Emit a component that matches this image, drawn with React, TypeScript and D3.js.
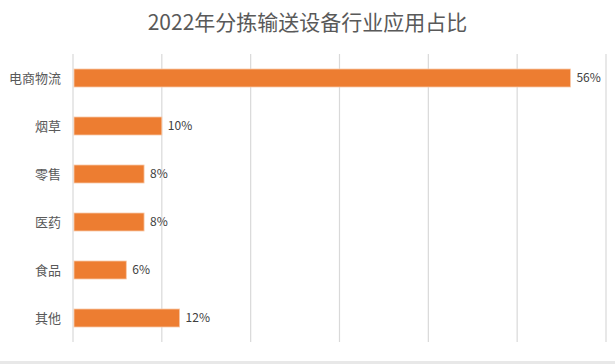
import React, { useRef, useEffect } from "react";
import * as d3 from "d3";

const categories = ["电商物流", "烟草", "零售", "医药", "食品", "其他"];
const shares = [56, 10, 8, 8, 6, 12];
const xTicks = [0, 10, 20, 30, 40, 50, 60];
const title = "2022年分拣输送设备行业应用占比";

const width = 615;
const height = 364;
const margin = { top: 54, right: 9, bottom: 22, left: 73 };
const font = "'Noto Sans CJK SC', 'Noto Sans', sans-serif";

const App: React.FC = () => {
  const svgRef = useRef<SVGSVGElement | null>(null);

  useEffect(() => {
    if (!svgRef.current) return;
    const svg = d3.select(svgRef.current);
    svg.selectAll("*").remove();

    const x = d3
      .scaleLinear()
      .domain([0, 60])
      .range([margin.left, width - margin.right]);
    const y = d3
      .scaleBand<string>()
      .domain(categories)
      .range([margin.top, height - margin.bottom])
      .paddingInner(0.625)
      .paddingOuter(0.3125);

    svg
      .append("rect")
      .attr("width", width)
      .attr("height", height)
      .attr("fill", "#fff");

    // bottom gray strip
    svg
      .append("rect")
      .attr("x", 0)
      .attr("y", height - 3)
      .attr("width", width)
      .attr("height", 3)
      .attr("fill", "#e8e8e8");

    svg
      .append("text")
      .attr("x", width / 2)
      .attr("y", 30)
      .attr("text-anchor", "middle")
      .attr("font-family", font)
      .attr("font-size", 21)
      .attr("fill", "#595959")
      .text(title);

    svg
      .append("g")
      .selectAll("line")
      .data(xTicks)
      .enter()
      .append("line")
      .attr("x1", (d) => x(d))
      .attr("x2", (d) => x(d))
      .attr("y1", margin.top)
      .attr("y2", height - margin.bottom)
      .attr("stroke", "#d9d9d9")
      .attr("stroke-width", 1.2);

    const rows = categories.map((c, i) => ({ label: c, value: shares[i] }));

    svg
      .append("g")
      .selectAll("rect")
      .data(rows)
      .enter()
      .append("rect")
      .attr("x", x(0) + 1)
      .attr("y", (d) => y(d.label)!)
      .attr("width", (d) => x(d.value) - x(0) - 1)
      .attr("height", y.bandwidth())
      .attr("fill", "#ED7D31")
      .attr("stroke", "#f8c9a8")
      .attr("stroke-width", 0.8);

    svg
      .append("g")
      .selectAll("text")
      .data(rows)
      .enter()
      .append("text")
      .attr("x", (d) => x(d.value) + 6)
      .attr("y", (d) => y(d.label)! + y.bandwidth() / 2)
      .attr("dy", "0.36em")
      .attr("font-family", font)
      .attr("font-size", 12)
      .attr("fill", "#404040")
      .text((d) => `${d.value}%`);

    svg
      .append("g")
      .selectAll("text")
      .data(categories)
      .enter()
      .append("text")
      .attr("x", margin.left - 12)
      .attr("y", (d) => y(d)! + y.bandwidth() / 2)
      .attr("dy", "0.36em")
      .attr("text-anchor", "end")
      .attr("font-family", font)
      .attr("font-size", 13)
      .attr("fill", "#595959")
      .text((d) => d);
  }, []);

  return (
    <div style={{ position: "absolute", left: 0, top: 0 }}>
      <svg ref={svgRef} width={width} height={height}></svg>
    </div>
  );
};

export default App;
